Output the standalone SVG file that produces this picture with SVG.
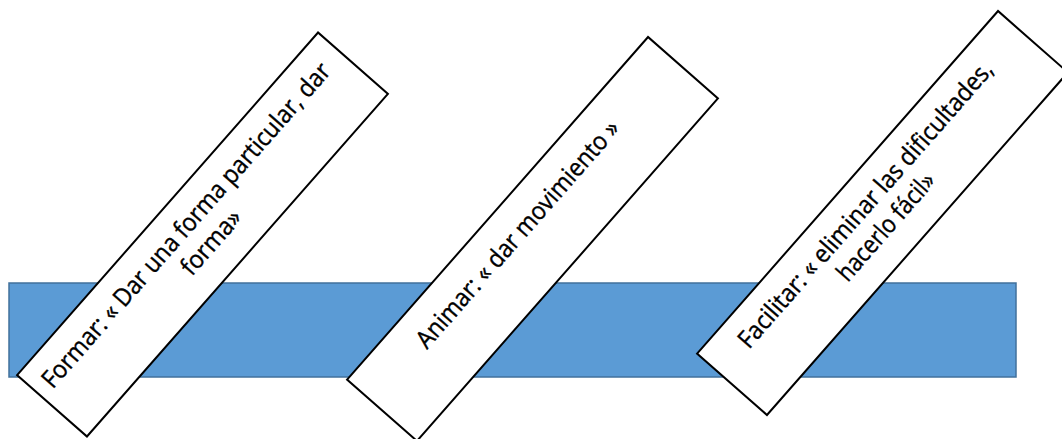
<svg xmlns="http://www.w3.org/2000/svg" width="1062" height="439" viewBox="0 0 1062 439">
<style>
.bar{fill:#5b9bd5;stroke:#41719c;stroke-width:1.5}
.box{fill:#ffffff;stroke:#000000;stroke-width:2}
.lbl{font-family:"Open Sans","Noto Sans","Liberation Sans",sans-serif;font-size:25px;fill:#000000;stroke:#000000;stroke-width:0.4;text-anchor:middle}
</style>
<rect width="1062" height="439" fill="#ffffff"/>
<g id="bar">
<rect class="bar" x="9" y="283" width="1007" height="94"/>
</g>
<g id="connectors"></g>
<g id="node-formar" transform="translate(202.5,234.5) rotate(-48.7)">
<rect class="box" x="-228" y="-46.5" width="456" height="93"/>
<text class="lbl" x="-4" y="-10" textLength="423" lengthAdjust="spacingAndGlyphs">Formar: « Dar una forma particular, dar</text>
<text class="lbl" x="0" y="20" textLength="78" lengthAdjust="spacingAndGlyphs">forma»</text>
</g>
<g id="node-animar" transform="translate(532.5,239) rotate(-48.7)">
<rect class="box" x="-228" y="-46.5" width="456" height="93"/>
<text class="lbl" x="-6" y="-6" textLength="294" lengthAdjust="spacingAndGlyphs">Animar: « dar movimiento »</text>
</g>
<g id="node-facilitar" transform="translate(882.5,213) rotate(-48.7)">
<rect class="box" x="-228" y="-46.5" width="456" height="93"/>
<text class="lbl" x="-5" y="-10" textLength="372" lengthAdjust="spacingAndGlyphs">Facilitar: « eliminar las dificultades,</text>
<text class="lbl" x="-8" y="20" textLength="135" lengthAdjust="spacingAndGlyphs">hacerlo fácil»</text>
</g>
</svg>
